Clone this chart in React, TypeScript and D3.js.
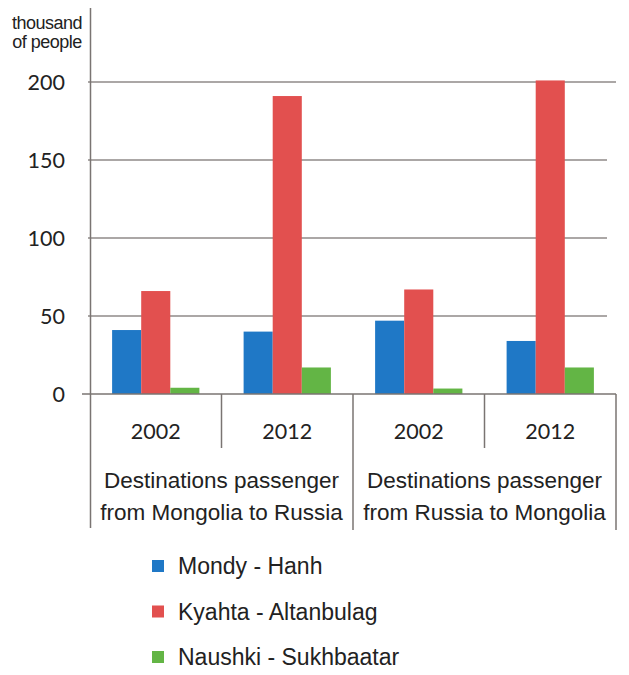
import React from "react";
import * as d3 from "d3";

const years = ["2002", "2012", "2002", "2012"];
const groups = ["Destinations passenger|from Mongolia to Russia", "Destinations passenger|from Russia to Mongolia"];
const seriesNames = ["Mondy - Hanh", "Kyahta - Altanbulag", "Naushki - Sukhbaatar"];
const seriesColors = ["#1f78c6", "#e2504f", "#63b545"];
const mondy = [41, 40, 47, 34];
const kyahta = [66, 191, 67, 201];
const naushki = [4, 17, 3.5, 17];
const yTicks = [0, 50, 100, 150, 200];

const series = [mondy, kyahta, naushki];

export default function App() {
  const W = 629, H = 675;
  const x0 = 90, x1 = 616;
  const x = d3.scaleBand<number>().domain(d3.range(years.length)).range([x0, x1]).paddingInner(0).paddingOuter(0);
  const inner = d3.scaleBand<number>().domain([0, 1, 2]).range([0, x.bandwidth()]).paddingInner(0).paddingOuter(0.76);
  const y = d3.scaleLinear().domain([0, 200]).range([394, 82]);
  const numFont = "Lato, 'Open Sans', sans-serif";
  const txtFont = "'Liberation Sans', Arial, sans-serif";
  const grid = "#8f8a88";
  return (
    <svg width={W} height={H} style={{ position: "absolute", left: 0, top: 0, background: "#fff" }}>
      {/* unit label */}
      <text x={47} y={29} textAnchor="middle" fontFamily={txtFont} fontSize={18} fill="#222" letterSpacing={-0.5}>thousand</text>
      <text x={47} y={48} textAnchor="middle" fontFamily={txtFont} fontSize={18} fill="#222" letterSpacing={-0.5}>of people</text>
      {/* gridlines */}
      {yTicks.filter(t => t > 0).map(t => (
        <line key={t} x1={88} x2={t === 200 ? 616 : 607} y1={y(t)} y2={y(t)} stroke={grid} strokeWidth={1.6} />
      ))}
      {yTicks.map(t => (
        <text key={"l" + t} x={65} y={y(t)} dy="0.36em" textAnchor="end" fontFamily={numFont} fontSize={21.5} fill="#222">{t}</text>
      ))}
      {/* bars */}
      {series.map((vals, si) => vals.map((v, ci) => (
        <rect key={si + "-" + ci} x={(x(ci) as number) + (inner(si) as number)} width={inner.bandwidth()} y={y(v)} height={y(0) - y(v)} fill={seriesColors[si]} />
      )))}
      {/* axes */}
      <line x1={90.5} x2={90.5} y1={8} y2={528} stroke="#7a7472" strokeWidth={1.5} />
      <line x1={82} x2={616} y1={394} y2={394} stroke="#7a7472" strokeWidth={1.5} />
      {years.map((_, i) => i === 0 ? null : (
        <line key={"v" + i} x1={x(i)} x2={x(i)} y1={394} y2={i === 2 ? 530 : 448} stroke="#7a7472" strokeWidth={1.5} />
      ))}
      <line x1={x1} x2={x1} y1={394} y2={530} stroke="#7a7472" strokeWidth={1.5} />
      {years.map((yr, i) => (
        <text key={"y" + i} x={(x(i) as number) + x.bandwidth() / 2} y={431} dy="0.36em" textAnchor="middle" fontFamily={numFont} fontSize={21.5} fill="#222">{yr}</text>
      ))}
      {groups.map((g, gi) => {
        const cx = (x(gi * 2) as number) + x.bandwidth();
        const lines = g.split("|");
        return lines.map((ln, li) => (
          <text key={gi + "-" + li} x={cx} y={480 + li * 32} dy="0.36em" textAnchor="middle" fontFamily={txtFont} fontSize={22.5} fill="#222">{ln}</text>
        ));
      })}
      {/* legend */}
      {seriesNames.map((n, i) => (
        <g key={n} transform={`translate(152, ${566 + i * 45.5})`}>
          <rect x={0} y={-6} width={12} height={12} fill={seriesColors[i]} />
          <text x={26} y={0} dy="0.36em" fontFamily={txtFont} fontSize={23} fill="#222">{n}</text>
        </g>
      ))}
    </svg>
  );
}
